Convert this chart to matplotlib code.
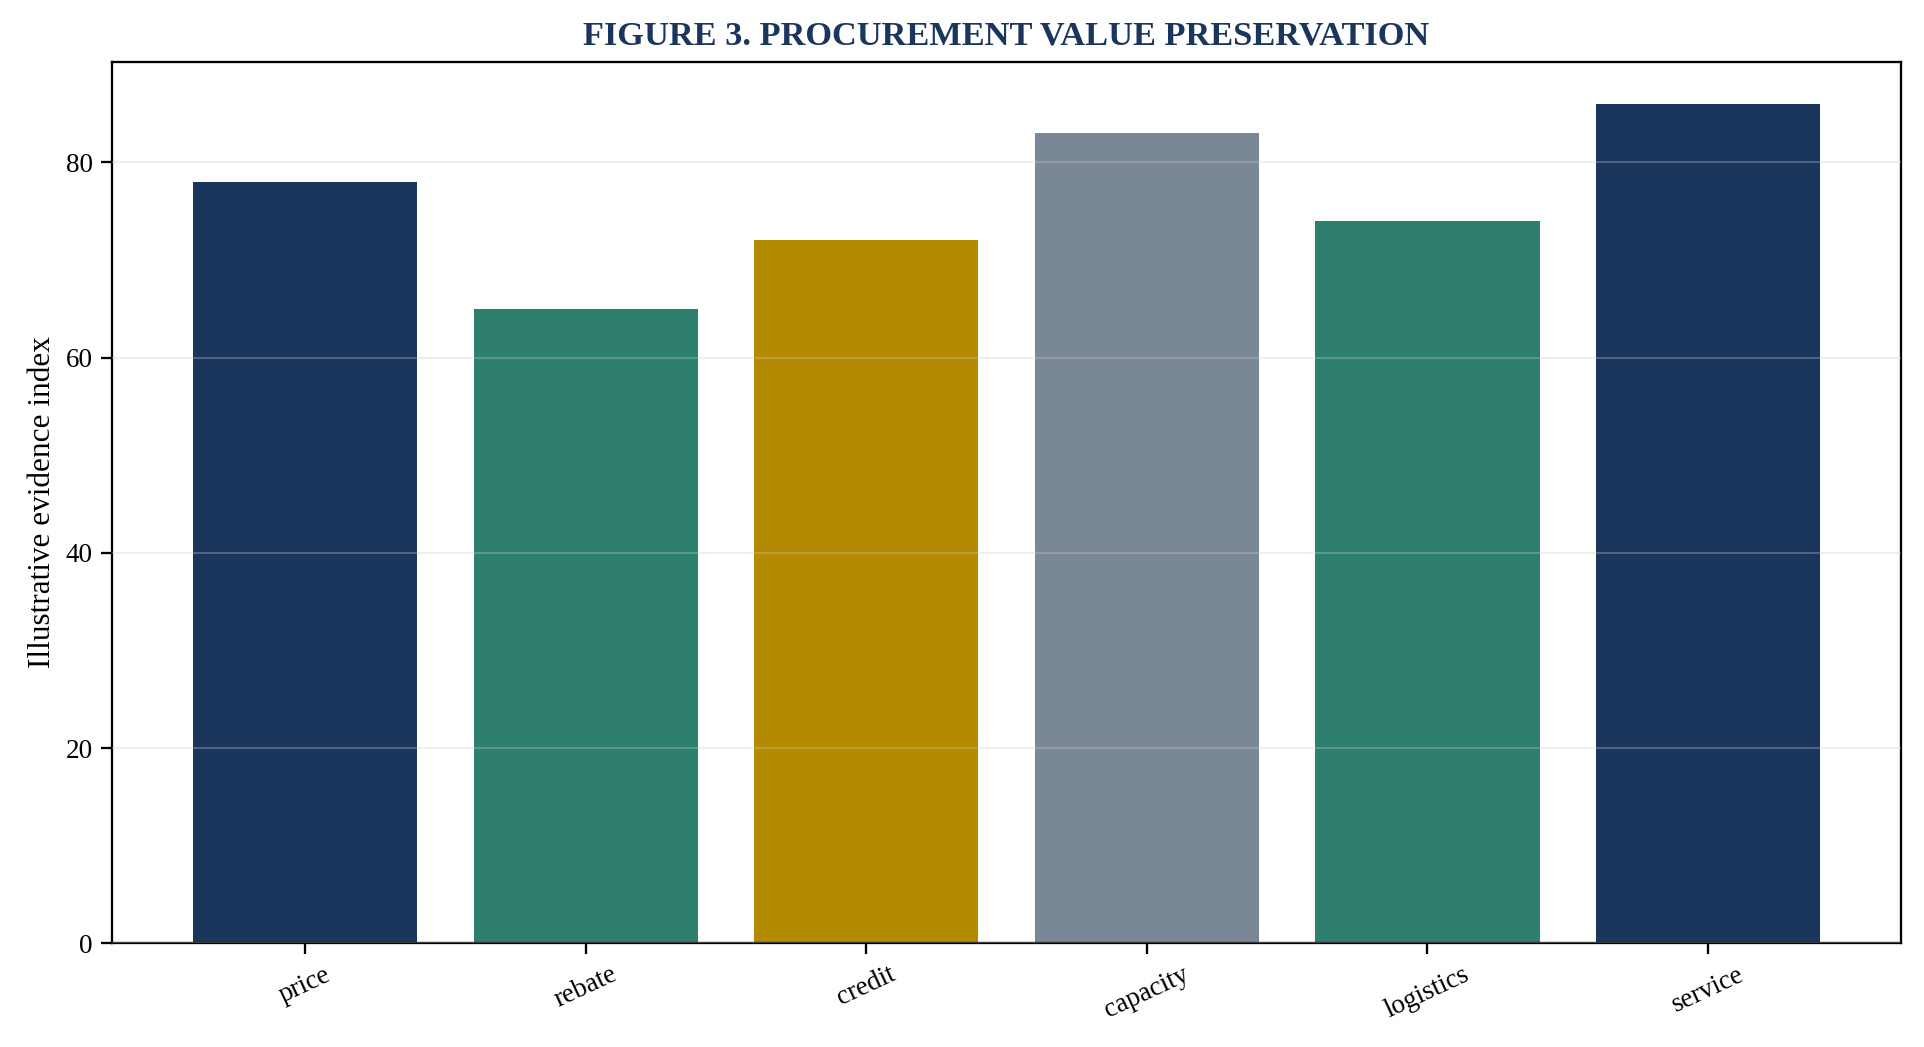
import matplotlib.pyplot as plt

# данные
categories = ['price', 'rebate', 'credit', 'capacity', 'logistics', 'service']
values = [78, 65, 72, 83, 74, 86]
colors = ['#1a365d', '#2e7f6e', '#b38a00', '#7a8797', '#2e7f6e', '#1a365d']

plt.rcParams['font.family'] = ['Liberation Serif', 'DejaVu Serif']

fig, ax = plt.subplots(figsize=(12.83, 6.98), dpi=150)

ax.bar(categories, values, color=colors, width=0.8)

# сетка поверх столбцов
ax.grid(axis='y', color='#cccccc', alpha=0.3, linewidth=1)
ax.set_axisbelow(False)

ax.set_ylabel('Illustrative evidence index', fontsize=15)
ax.set_title('FIGURE 3. PROCUREMENT VALUE PRESERVATION', fontsize=16.5,
             fontweight='bold', color='#1a365d', pad=8.5)

ax.tick_params(axis='both', labelsize=13, width=1.1, length=5.5)
for s in ax.spines.values():
    s.set_linewidth(1.1)
plt.setp(ax.get_xticklabels(), rotation=25)

fig.subplots_adjust(left=0.058, right=0.988, top=0.941, bottom=0.099)
fig.savefig('out.png', dpi=150)
